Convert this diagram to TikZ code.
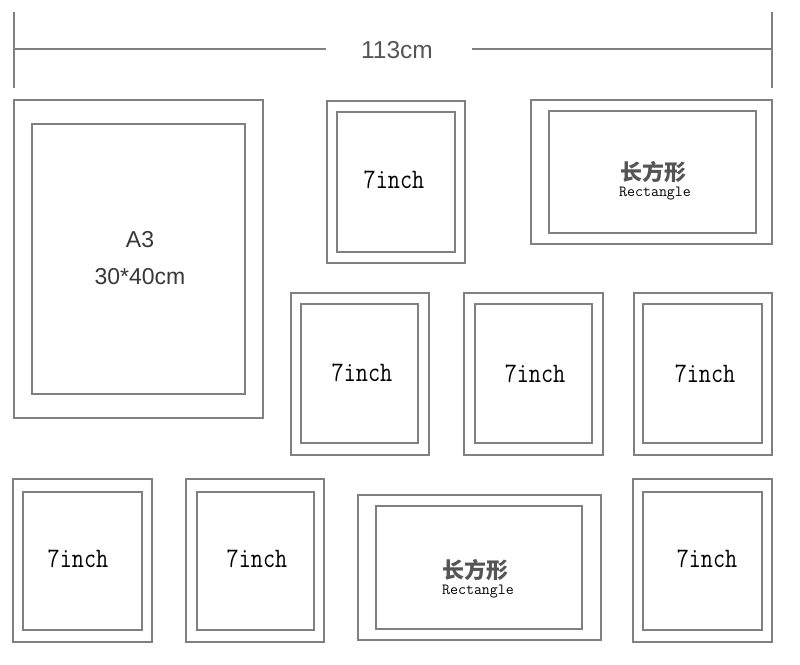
\documentclass[tikz,border=0pt]{standalone}
\usepackage{fontspec}
\newfontfamily\arial{Liberation Sans}
\newfontfamily\cjk{Noto Sans CJK SC}
\definecolor{framegray}{HTML}{808080}
\definecolor{txtgray}{HTML}{383838}
\definecolor{cjkgray}{HTML}{555555}
\begin{document}
\begin{tikzpicture}[x=1pt,y=-1pt,
  box/.style={draw=framegray, line width=1.5pt, rectangle, inner sep=0pt, outer sep=0pt, anchor=north west},
  seven/.style={font=\ttfamily\fontsize{23.5}{23.5}\selectfont, text=black, inner sep=0pt},
  cjklab/.style={font=\cjk\bfseries\fontsize{22}{22}\selectfont, text=cjkgray, inner sep=0pt},
  rectlab/.style={font=\ttfamily\fontsize{15.5}{15.5}\selectfont, text=black, inner sep=0pt},
  sanslab/.style={font=\arial\fontsize{23}{23}\selectfont, text=txtgray, inner sep=0pt},
  dimlab/.style={font=\arial\fontsize{24.5}{24.5}\selectfont, text=cjkgray, inner sep=0pt},
  dim/.style={draw=framegray, line width=1.4pt}]
\useasboundingbox[fill=white] (0,0) rectangle (800,664);

% dimension line
\coordinate (tl1) at (14,12);
\coordinate (tl2) at (14,88);
\coordinate (tr1) at (772,12);
\coordinate (tr2) at (772,88);
\coordinate (dl) at (14,49);
\coordinate (dr) at (772,49);
\node[dimlab] (dimtxt) at (397,50) {113cm};
\coordinate (dml) at (326,49);
\coordinate (dmr) at (472,49);
\draw[dim] (tl1) -- (tl2);
\draw[dim] (tr1) -- (tr2);
\draw[dim] (dl) -- (dml);
\draw[dim] (dmr) -- (dr);

% A3
\node[box, minimum width=249, minimum height=318] (a3o) at (14,100) {};
\node[box, minimum width=213, minimum height=270] (a3i) at (32,124) {};
\node[sanslab] (a3t) at (140,240) {A3};
\node[sanslab] (a3s) at (140,277) {30*40cm};

% top 7inch
\node[box, minimum width=138, minimum height=162] (t7o) at (327,101) {};
\node[box, minimum width=118, minimum height=140] (t7i) at (337,112) {};
\node[seven] (t7t) at (394,180) {\scalebox{1}[1.2]{7inch}};

% top right rectangle
\node[box, minimum width=241, minimum height=144] (tro) at (531,100) {};
\node[box, minimum width=207, minimum height=122] (tri) at (549,111) {};
\node[cjklab] (trc) at (653,172) {长方形};
\node[rectlab] (trr) at (655,194) {Rectangle};

% middle row
\node[box, minimum width=138, minimum height=162] (m1o) at (291,293) {};
\node[box, minimum width=117, minimum height=139] (m1i) at (301,304) {};
\node[seven] (m1t) at (362,373) {\scalebox{1}[1.2]{7inch}};

\node[box, minimum width=139, minimum height=162] (m2o) at (464,293) {};
\node[box, minimum width=117, minimum height=139] (m2i) at (475,304) {};
\node[seven] (m2t) at (535,374) {\scalebox{1}[1.2]{7inch}};

\node[box, minimum width=138, minimum height=162] (m3o) at (634,293) {};
\node[box, minimum width=119, minimum height=139] (m3i) at (643,304) {};
\node[seven] (m3t) at (705,374) {\scalebox{1}[1.2]{7inch}};

% bottom row
\node[box, minimum width=139, minimum height=163] (b1o) at (13,479) {};
\node[box, minimum width=119, minimum height=138] (b1i) at (23,492) {};
\node[seven] (b1t) at (78,559) {\scalebox{1}[1.2]{7inch}};

\node[box, minimum width=138, minimum height=163] (b2o) at (186,479) {};
\node[box, minimum width=117, minimum height=138] (b2i) at (197,492) {};
\node[seven] (b2t) at (257,559) {\scalebox{1}[1.2]{7inch}};

\node[box, minimum width=243, minimum height=145] (bro) at (358,495) {};
\node[box, minimum width=206, minimum height=123] (bri) at (376,506) {};
\node[cjklab] (brc) at (475,570) {长方形};
\node[rectlab] (brr) at (478,592) {Rectangle};

\node[box, minimum width=139, minimum height=163] (b4o) at (633,479) {};
\node[box, minimum width=119, minimum height=138] (b4i) at (643,492) {};
\node[seven] (b4t) at (707,559) {\scalebox{1}[1.2]{7inch}};
\end{tikzpicture}
\end{document}
